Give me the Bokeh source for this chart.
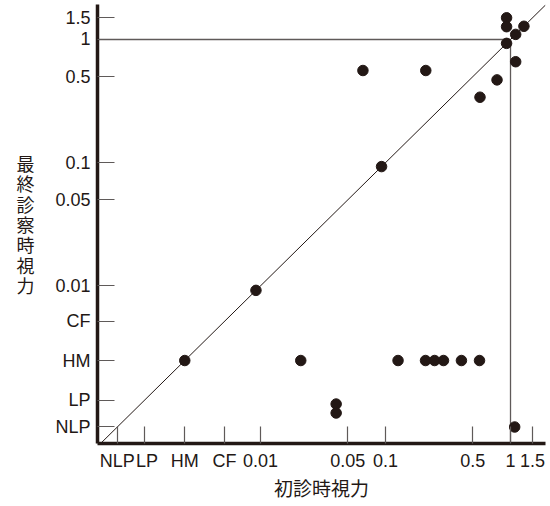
import numpy as np
from bokeh.plotting import figure
from bokeh.models import FixedTicker, Range1d
from bokeh.embed import file_html
from bokeh.resources import INLINE

# Decimal-acuity equivalents used to place the category labels on the log axes
category_values = {"NLP": 0.000716, "LP": 0.00118, "HM": 0.00248, "CF": 0.00515}
tick_labels = ["NLP", "LP", "HM", "CF", "0.01", "0.05", "0.1", "0.5", "1", "1.5"]

# Visual acuity at first visit (x) and at last visit (y)
initial_va = [0.93, 0.93, 1.28, 1.1, 0.93, 1.1, 0.78, 0.57, 0.066, 0.21,
              0.093, 0.0092, "HM",
              0.021, 0.126, 0.209, 0.247, 0.291, 0.405, 0.565,
              0.0403, 0.0403, 1.08]
final_va = [1.5, 1.27, 1.28, 1.1, 0.93, 0.66, 0.47, 0.34, 0.56, 0.56,
            0.093, 0.0092, "HM",
            "HM", "HM", "HM", "HM", "HM", "HM", "HM",
            0.0011, 0.00093, "NLP"]


def to_num(v):
    return category_values[v] if isinstance(v, str) else float(v)


xs = [to_num(v) for v in initial_va]
ys = [to_num(v) for v in final_va]
tick_vals = [to_num(t) if t in category_values else float(t) for t in tick_labels]
y_overrides = {tv: lab for tv, lab in zip(tick_vals, tick_labels)}
# on the x axis the "LP" label sits a little right of its tick, clear of "NLP"
x_overrides = {tv: ("\u00a0" + lab if lab == "LP" else lab) for tv, lab in zip(tick_vals, tick_labels)}

x_lo, x_hi = 0.000497, 1.905
y_lo, y_hi = 0.000526, 1.923

INK = "#231815"
GRAY = "#5f5a59"

p = figure(width=550, height=506,
           x_axis_type="log", y_axis_type="log",
           x_range=Range1d(x_lo, x_hi), y_range=Range1d(y_lo, y_hi),
           output_backend="svg", toolbar_location=None,
           min_border_left=97, min_border_right=5, min_border_top=4, min_border_bottom=63)
p.outline_line_color = None
p.grid.visible = False
p.background_fill_color = "white"

# diagonal y = x
p.line([y_lo, x_hi], [y_lo, x_hi], line_color=INK, line_width=1)
# reference lines at acuity 1.0
p.segment(x0=[x_lo, 1.0], y0=[1.0, y_lo], x1=[1.0, 1.0], y1=[1.0, 1.0],
          line_color=GRAY, line_width=1.3)

p.scatter(xs, ys, size=10.5, fill_color=INK, line_color=INK)

for ax, lab, ov in ((p.xaxis, "初診時視力", x_overrides),
                    (p.yaxis, "最\n終\n診\n察\n時\n視\n力", y_overrides)):
    ax.ticker = FixedTicker(ticks=tick_vals)
    ax.major_label_overrides = ov
    ax.axis_line_color = INK
    ax.axis_line_width = 3.5
    ax.major_tick_in = 17
    ax.major_tick_out = 0
    ax.major_tick_line_color = GRAY
    ax.major_tick_line_width = 1.2
    ax.minor_tick_line_color = None
    ax.major_label_text_font = "Liberation Sans"
    ax.major_label_text_font_size = "18px"
    ax.major_label_text_color = INK
    ax.axis_label = lab
    ax.axis_label_text_font = "Noto Sans CJK JP"
    ax.axis_label_text_font_size = "19px"
    ax.axis_label_text_font_style = "normal"
    ax.axis_label_text_color = INK

p.xaxis.major_label_standoff = 7
p.xaxis.axis_label_standoff = 0
p.yaxis.major_label_standoff = 7
p.yaxis.axis_label_standoff = 18
p.yaxis.axis_label_orientation = "horizontal"
p.yaxis.axis_label_text_line_height = 0.78
p.yaxis.axis_label_text_font_size = "18px"

open("out.html", "w").write(file_html(p, INLINE))
